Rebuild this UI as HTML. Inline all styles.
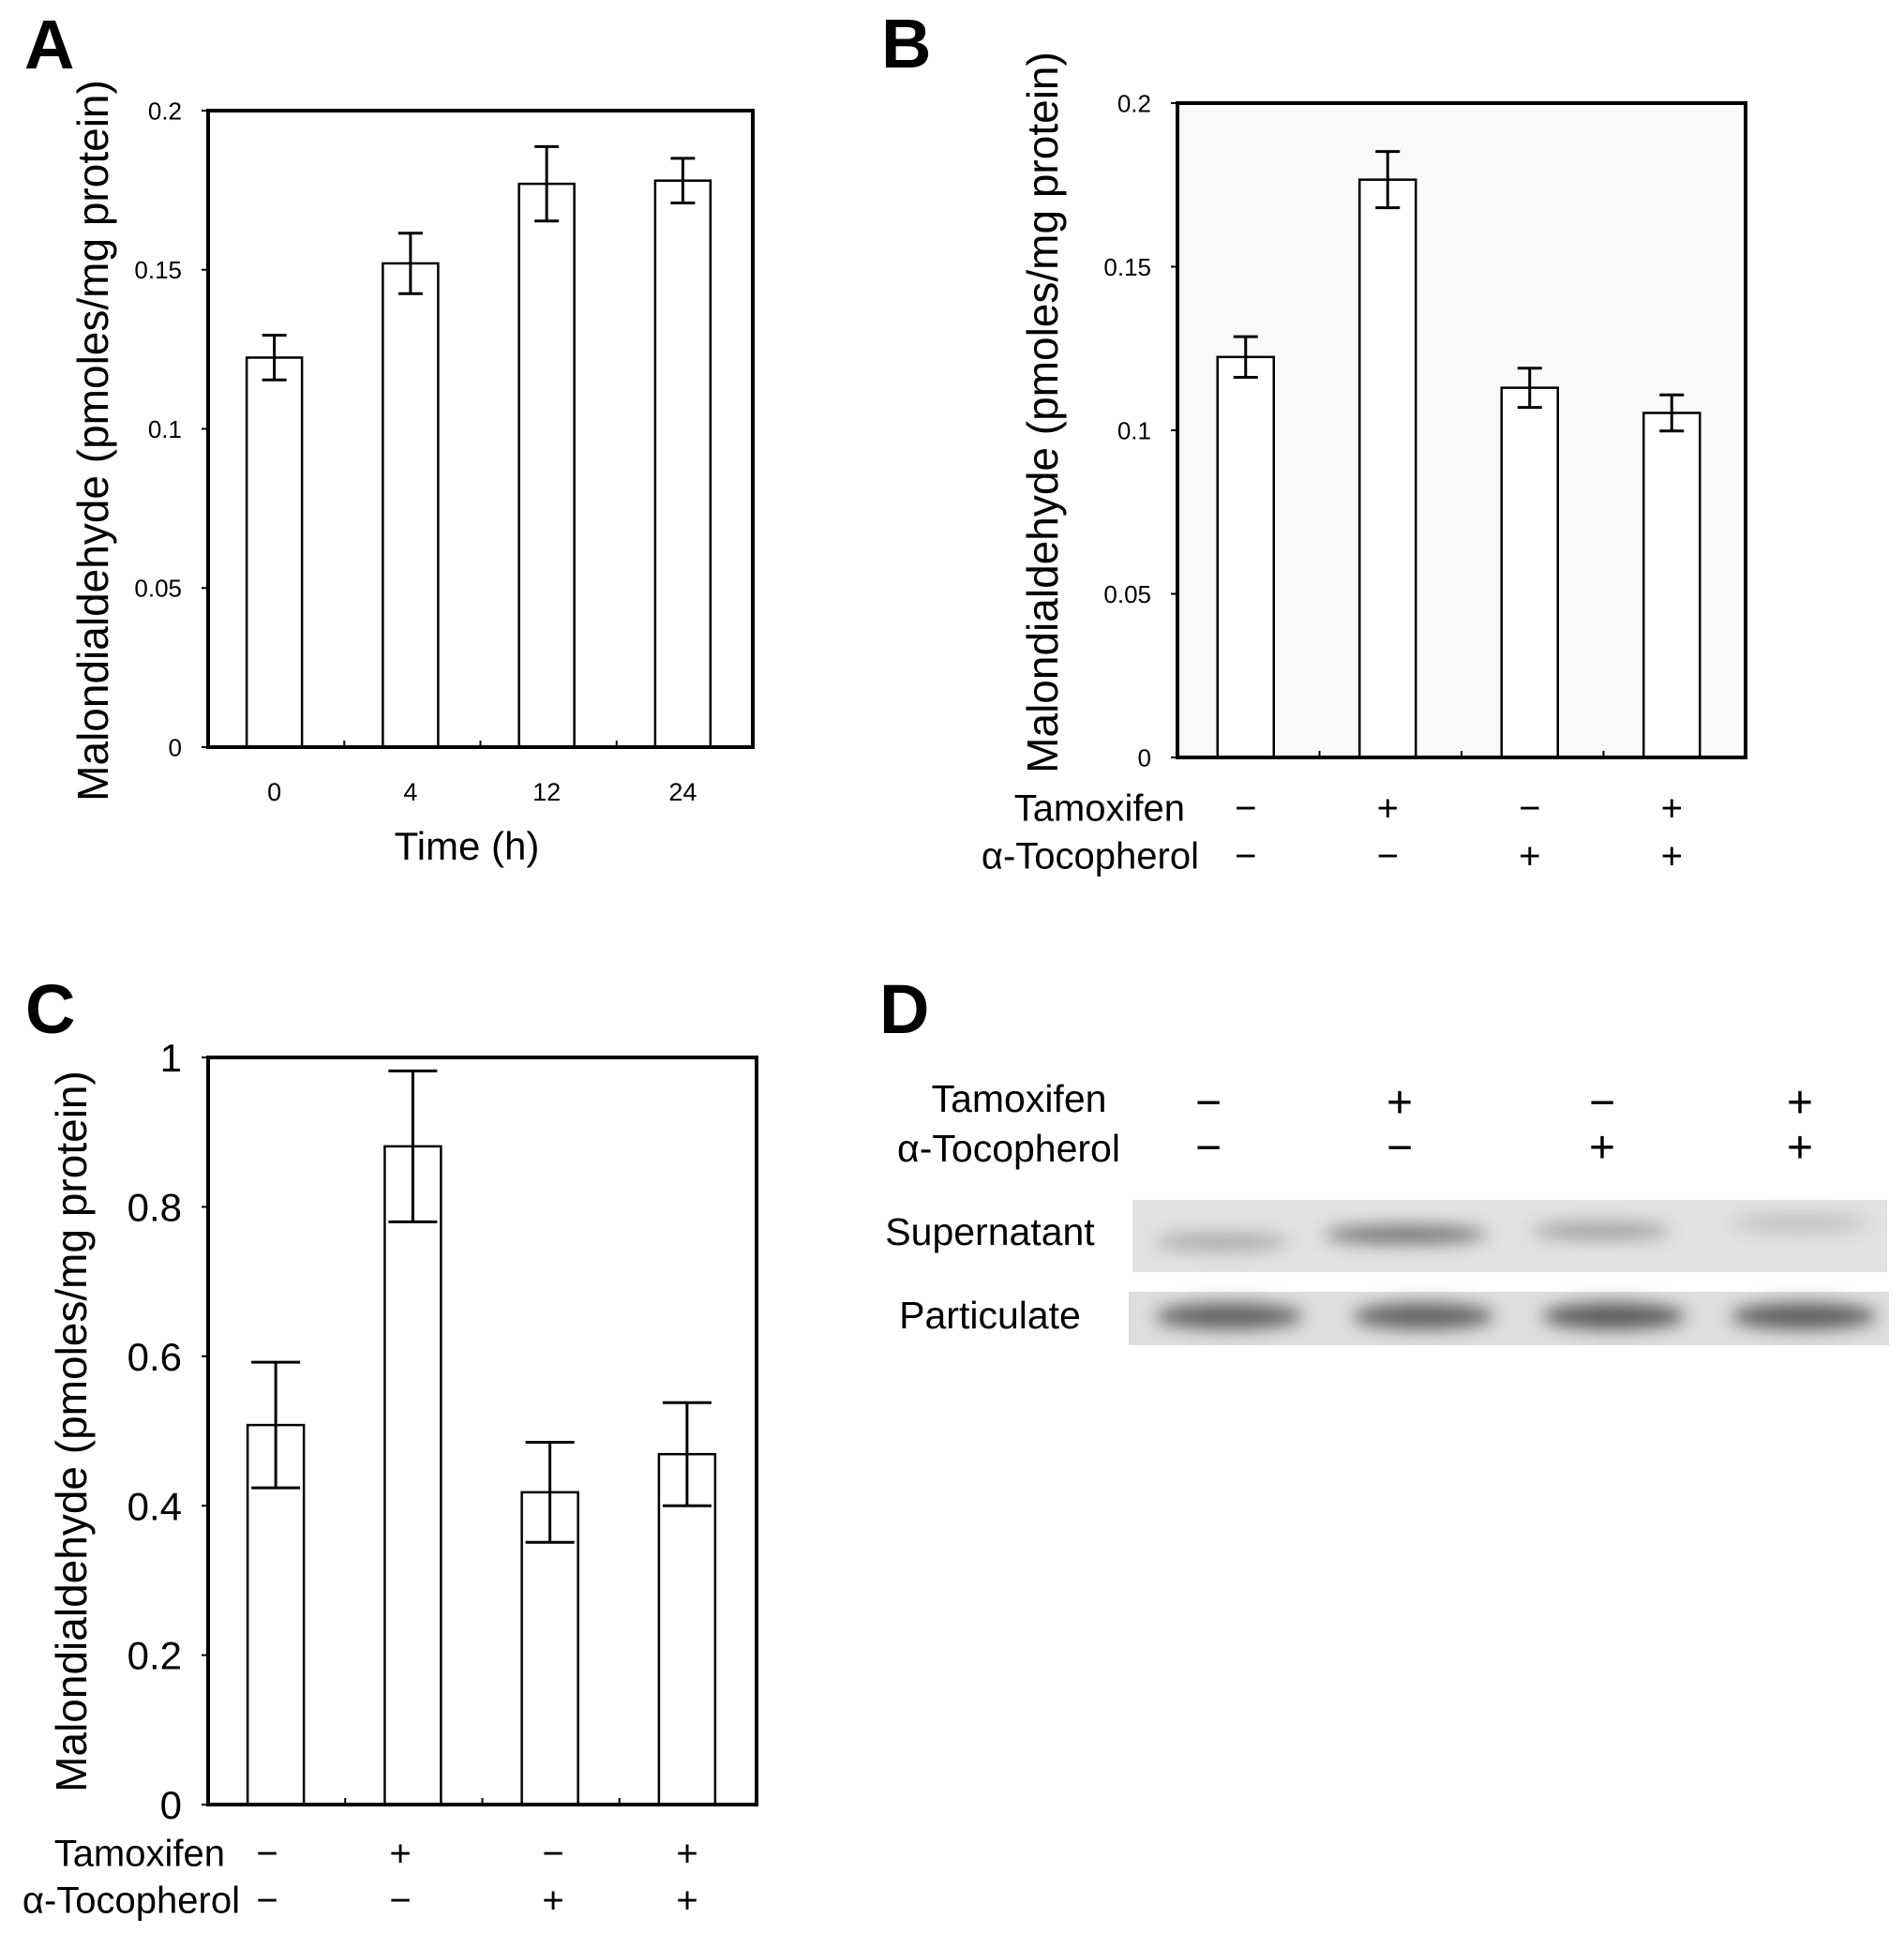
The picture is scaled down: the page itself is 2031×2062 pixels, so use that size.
<!DOCTYPE html>
<html><head><meta charset="utf-8"><style>
html,body{margin:0;padding:0;background:#fff;}
svg{display:block;font-family:"Liberation Sans",Arial,sans-serif;}
</style></head><body>
<svg id="fig" width="2031" height="2062" viewBox="0 0 2031 2062" xmlns="http://www.w3.org/2000/svg">
<defs>
<filter id="blur" x="-30%" y="-100%" width="160%" height="300%"><feGaussianBlur stdDeviation="9"/></filter>
</defs>
<text x="26" y="73" font-size="74" font-weight="bold">A</text>
<text x="940" y="72" font-size="74" font-weight="bold">B</text>
<text x="27" y="1102" font-size="74" font-weight="bold">C</text>
<text x="938" y="1102" font-size="74" font-weight="bold">D</text>
<g id="pa"></g>
<g id="pb"></g>
<g id="pc"></g>
<g id="pd"></g>
</svg>
<script>
// Panel A data
const aCategories = ["0","4","12","24"];
const aValues = [0.1224, 0.152, 0.177, 0.178];
const aErrors = [0.007, 0.0095, 0.0117, 0.007];
const aTicks = [0, 0.05, 0.1, 0.15, 0.2];
const aTickLabels = ["0","0.05","0.1","0.15","0.2"];
// Panel B data
const bValues = [0.1224, 0.1766, 0.113, 0.1053];
const bErrors = [0.0062, 0.0086, 0.006, 0.0055];
const bTicks = [0, 0.05, 0.1, 0.15, 0.2];
const bTickLabels = ["0","0.05","0.1","0.15","0.2"];
// Panel C data
const cValues = [0.508, 0.881, 0.418, 0.469];
const cErrors = [0.084, 0.101, 0.067, 0.069];
const cTicks = [0, 0.2, 0.4, 0.6, 0.8, 1];
const cTickLabels = ["0","0.2","0.4","0.6","0.8","1"];
// Treatment rows
const tamoxifenSigns = ["\u2212","+","\u2212","+"];
const tocopherolSigns = ["\u2212","\u2212","+","+"];
// Panel D band intensities (0..1)
const supernatantBands = [0.35, 0.7, 0.4, 0.2];
const particulateBands = [0.75, 0.75, 0.8, 0.78];

const NS = "http://www.w3.org/2000/svg";
function mk(tag, attrs, parent){
  const e = document.createElementNS(NS, tag);
  for (const k in attrs) e.setAttribute(k, attrs[k]);
  parent.appendChild(e); return e;
}

function chart(g, cfg, values, errors, ticks, tickLabels, prefix){
  const {x0,x1,y0,y1,ymax,bw,cap,tickFont,bg,shift} = cfg;
  const n = values.length, band = (x1-x0)/n;
  const yS = v => y1 - (v/ymax)*(y1-y0);
  const xC = i => x0 + band*(i+0.5) + shift;
  const frame = mk("rect",{x:x0,y:y0,width:x1-x0,height:y1-y0,fill:bg,stroke:"none"},g);
  
  
  for (let i=0;i<ticks.length;i++){
    const y = yS(ticks[i]);
    const t = mk("line",{x1:x0-7,x2:x0,y1:y,y2:y,stroke:"#000","stroke-width":2},g);
    
    
    const lb = mk("text",{x:x0-28,y:y+tickFont*0.36,"font-size":tickFont,"text-anchor":"end"},g);
    lb.textContent = tickLabels[i];
    
    
  }
  for (let i=1;i<=n;i++){
    const x = x0 + band*i;
    const t = mk("line",{x1:x,x2:x,y1:y1,y2:y1-7,stroke:"#000","stroke-width":2},g);
    
    
  }
  for (let i=0;i<n;i++){
    const cx = xC(i), top = yS(values[i]);
    const r = mk("rect",{x:cx-bw/2,y:top,width:bw,height:y1-top,fill:"#fff",stroke:"#000","stroke-width":2.5},g);
    
    
    const hi = yS(values[i]+errors[i]), lo = yS(values[i]-errors[i]);
    const eg = mk("g",{stroke:"#000","stroke-width":3},g);
    
    
    mk("line",{x1:cx,x2:cx,y1:hi,y2:lo},eg);
    mk("line",{x1:cx-cap/2,x2:cx+cap/2,y1:hi,y2:hi},eg);
    mk("line",{x1:cx-cap/2,x2:cx+cap/2,y1:lo,y2:lo},eg);
  }
  const fr = mk("rect",{x:x0,y:y0,width:x1-x0,height:y1-y0,fill:"none",stroke:"#000","stroke-width":4},g);
  
  
  return {xC};
}
function ytitle(g, x, yc, prefix){
  const t = mk("text",{x:0,y:0,"font-size":46,"text-anchor":"middle",transform:`translate(${x},${yc}) rotate(-90)`},g);
  t.textContent = "Malondialdehyde (pmoles/mg protein)";
  
  
}
function signRows(g, xs, yT, yA, labelRightT, labelRightA, prefix, fs){
  const a = mk("text",{x:labelRightT,y:yT+fs*0.36,"font-size":fs,"text-anchor":"end"},g);
  a.textContent = "Tamoxifen";
  
  
  const b = mk("text",{x:labelRightA,y:yA+fs*0.36,"font-size":fs,"text-anchor":"end"},g);
  b.textContent = "\u03b1-Tocopherol";
  
  
  for (let i=0;i<xs.length;i++){
    const s1 = mk("text",{x:xs[i],y:yT+fs*0.36,"font-size":fs,"text-anchor":"middle"},g);
    s1.textContent = tamoxifenSigns[i];
    
    
    const s2 = mk("text",{x:xs[i],y:yA+fs*0.36,"font-size":fs,"text-anchor":"middle"},g);
    s2.textContent = tocopherolSigns[i];
    
    
  }
}

// Panel A
const ga = document.getElementById("pa");
const A = chart(ga,{x0:222,x1:803,y0:118,y1:797,ymax:0.2,bw:59,cap:26,tickFont:26,bg:"#fff",shift:-2},aValues,aErrors,aTicks,aTickLabels,"panel-a");
ytitle(ga,115,470,"panel-a");
for (let i=0;i<aCategories.length;i++){
  const t = mk("text",{x:A.xC(i),y:854,"font-size":27,"text-anchor":"middle"},ga);
  t.textContent = aCategories[i];
  
  
}
const at = mk("text",{x:498,y:917,"font-size":42,"text-anchor":"middle"},ga);
at.textContent = "Time (h)";



// Panel B
const gb = document.getElementById("pb");
const B = chart(gb,{x0:1256,x1:1862,y0:110,y1:808,ymax:0.2,bw:60,cap:26,tickFont:26,bg:"#f9f9f9",shift:-3},bValues,bErrors,bTicks,bTickLabels,"panel-b");
ytitle(gb,1128,440,"panel-b");
signRows(gb,[0,1,2,3].map(i=>B.xC(i)),861,912,1264,1279,"panel-b",40);

// Panel C
const gc = document.getElementById("pc");
const C = chart(gc,{x0:222,x1:807,y0:1128,y1:1925,ymax:1,bw:60,cap:52,tickFont:42,bg:"#fff",shift:-1},cValues,cErrors,cTicks,cTickLabels,"panel-c");
ytitle(gc,92,1527,"panel-c");
signRows(gc,[285,427,590,733],1976,2026,240,256,"panel-c",40);

// Panel D
const gd = document.getElementById("pd");
const dTxt = [["Tamoxifen",1087,1171],["\u03b1-Tocopherol",1076,1224],["Supernatant",1056,1313],["Particulate",1056,1402]];
const dNames = ["panel-d-tamoxifen-label","panel-d-tocopherol-label","supernatant-label","particulate-label"];
for (let i=0;i<dTxt.length;i++){
  const t = mk("text",{x:dTxt[i][1],y:dTxt[i][2]+15,"font-size":41,"text-anchor":"middle"},gd);
  t.textContent = dTxt[i][0];
  
  
}
const dx = [1289,1493,1709,1920];
for (let i=0;i<4;i++){
  const s1 = mk("text",{x:dx[i],y:1192,"font-size":48,"text-anchor":"middle"},gd);
  s1.textContent = tamoxifenSigns[i];
  
  
  const s2 = mk("text",{x:dx[i],y:1240,"font-size":48,"text-anchor":"middle"},gd);
  s2.textContent = tocopherolSigns[i];
  
  
}
const b1 = mk("rect",{x:1208,y:1280,width:805,height:77,fill:"#e2e2e2"},gd);


const b2 = mk("rect",{x:1204,y:1378,width:811,height:57,fill:"#dedede"},gd);


const supLanes = [[1232,1375,1325],[1412,1586,1317],[1634,1782,1313],[1846,1994,1305]];
const parLanes = [[1232,1390],[1443,1594],[1645,1798],[1846,2002]];
for (let i=0;i<4;i++){
  const l = supLanes[i];
  const e = mk("ellipse",{cx:(l[0]+l[1])/2,cy:l[2],rx:(l[1]-l[0])/2,ry:10,fill:"#000","fill-opacity":supernatantBands[i]*0.7,filter:"url(#blur)"},gd);
  
  
  const p = parLanes[i];
  const f = mk("ellipse",{cx:(p[0]+p[1])/2,cy:1404,rx:(p[1]-p[0])/2,ry:14,fill:"#000","fill-opacity":particulateBands[i]*0.75,filter:"url(#blur)"},gd);
  
  
}
</script>
</body></html>
